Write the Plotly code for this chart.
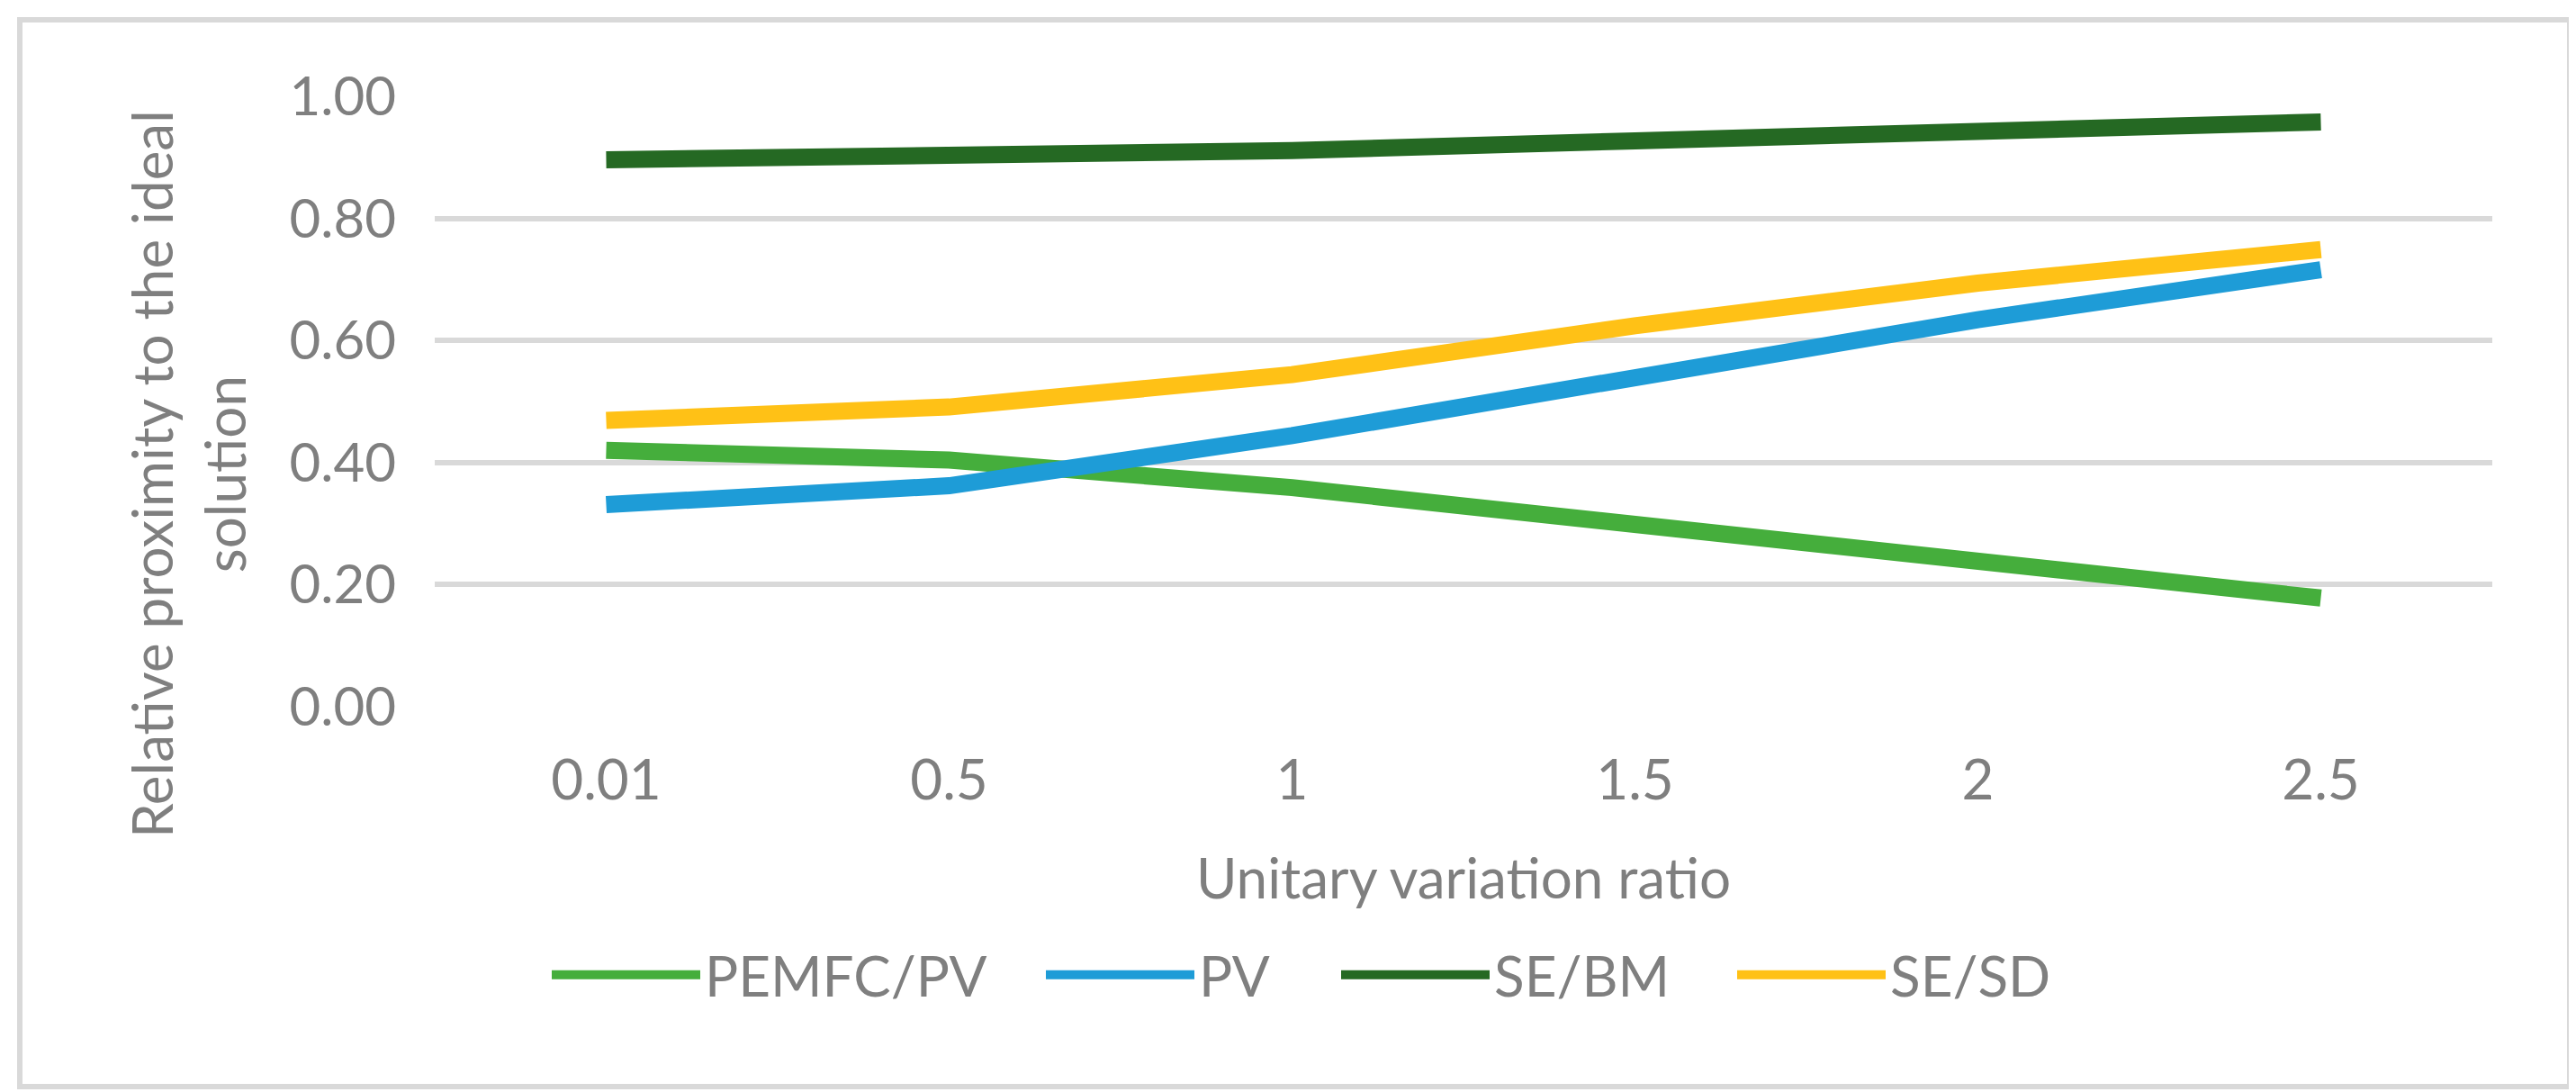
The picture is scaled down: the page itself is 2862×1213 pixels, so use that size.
import plotly.graph_objects as go

categories = ["0.01", "0.5", "1", "1.5", "2", "2.5"]
pemfc_pv = [0.420, 0.404, 0.359, 0.300, 0.235, 0.178]
pv = [0.331, 0.362, 0.444, 0.542, 0.634, 0.716]
se_bm = [0.896, 0.900, 0.911, 0.927, 0.944, 0.958]
se_sd = [0.469, 0.491, 0.544, 0.624, 0.694, 0.749]
series_names = ["PEMFC/PV", "PV", "SE/BM", "SE/SD"]
series_colors = ["#45AE3C", "#1E9CD7", "#256923", "#FFC116"]
y_ticks = [0.0, 0.2, 0.4, 0.6, 0.8, 1.0]
x_title = "Unitary variation ratio"
y_title = "Relative proximity to the ideal<br>solution"

W, H = 2862, 1213
L, R, T, B = 475, 101, 99, 436
FONT = "Lato, Carlito, Calibri, sans-serif"
GRAY = "#7F7F7F"
FS = 62

pw = W - L - R
ph = H - T - B

# legend entry left edges (px in figure) and vertical centre
legend_px = [600, 1149, 1477, 1917]
legend_y_px = 1075
legend_ids = ["legend", "legend2", "legend3", "legend4"]

fig = go.Figure()
for name, vals, col, lid in zip(series_names, [pemfc_pv, pv, se_bm, se_sd], series_colors, legend_ids):
    fig.add_trace(go.Scatter(
        x=categories, y=vals, name=name, mode="lines",
        line=dict(color=col, width=19), legend=lid,
    ))

fig.add_shape(type="rect", xref="paper", yref="paper",
              x0=(14 - L) / pw, x1=(W - 15 - L) / pw,
              y0=-(H - 14 - T - ph) / ph,
              y1=1 + (T - 14) / ph,
              line=dict(color="#D9D9D9", width=6), layer="below")

# y-axis title (placed like the original, slightly below the plot centre)
fig.add_annotation(text=y_title, xref="paper", yref="paper",
                   x=(200 - L) / pw, y=(H - B - 519) / ph,
                   xanchor="center", yanchor="middle", textangle=-90,
                   showarrow=False, font=dict(family=FONT, size=FS, color=GRAY))

legend_layout = {}
for lid, px in zip(legend_ids, legend_px):
    legend_layout[lid] = dict(
        orientation="h", x=(px - L) / pw, xanchor="left",
        y=-(legend_y_px - T - ph) / ph, yanchor="middle",
        itemwidth=165, font=dict(family=FONT, size=FS, color=GRAY),
        bgcolor="rgba(0,0,0,0)", itemclick=False,
    )

fig.update_layout(
    width=W, height=H,
    margin=dict(l=L, r=R, t=T, b=B, autoexpand=False),
    paper_bgcolor="white", plot_bgcolor="white",
    font=dict(family=FONT, size=FS, color=GRAY),
    showlegend=True,
    xaxis=dict(type="category", categoryorder="array", categoryarray=categories,
               range=[-0.5, 5.5], showgrid=False, zeroline=False, showline=False,
               ticks="", ticklabelstandoff=40,
               title=dict(text=x_title, standoff=54,
                          font=dict(family=FONT, size=FS, color=GRAY)),
               automargin=False),
    yaxis=dict(range=[0, 1], tickvals=y_ticks, tickformat=".2f",
               tickfont=dict(family=FONT, size=60, color=GRAY),
               showgrid=True, gridcolor="#D9D9D9", gridwidth=6,
               zeroline=False, showline=False, ticks="", ticklabelstandoff=42,
               automargin=False),
    **legend_layout,
)

fig.write_html("out.html")
